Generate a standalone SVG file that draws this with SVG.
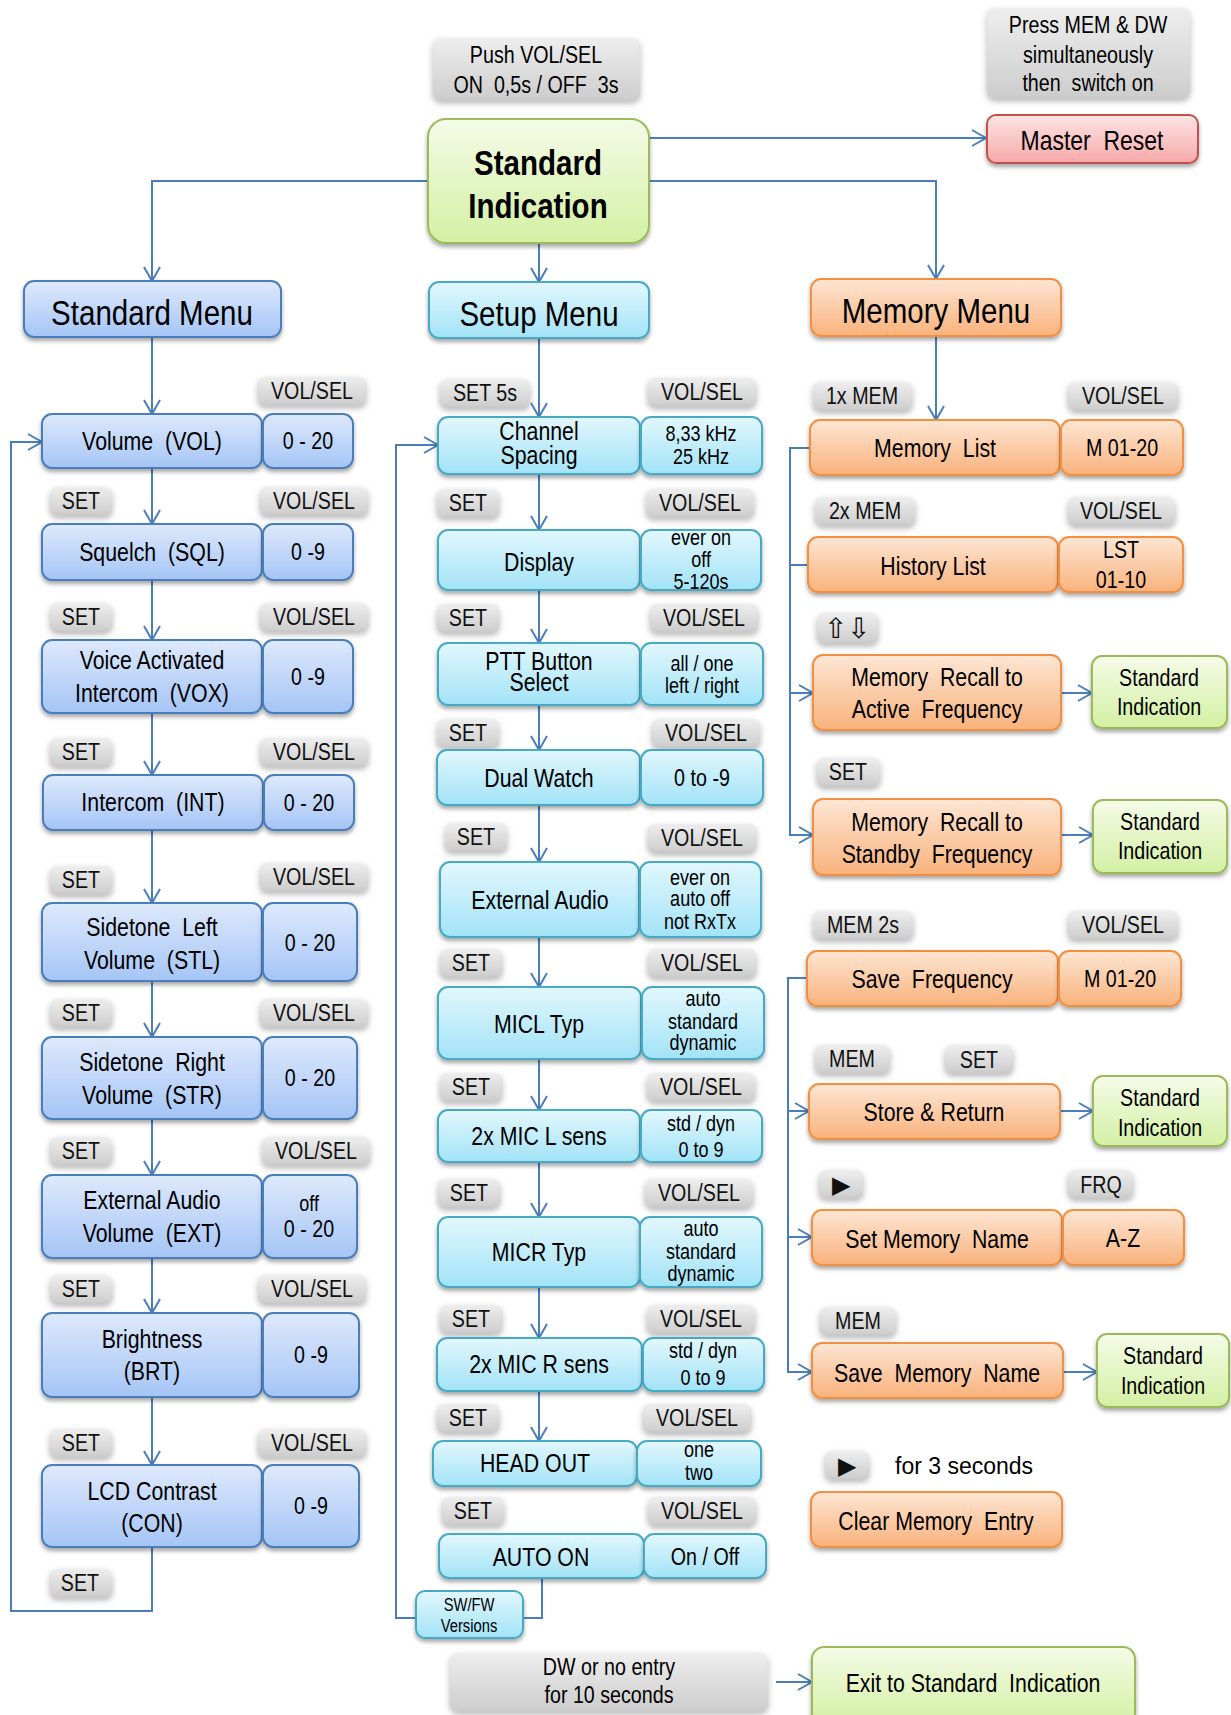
<svg xmlns="http://www.w3.org/2000/svg" width="1231" height="1715" viewBox="0 0 1231 1715">
<defs>
<style>
text{font-family:"Liberation Sans",Arial,sans-serif;text-anchor:middle;fill:#000;transform-box:fill-box;transform-origin:center;transform:scaleX(0.82)}
text.ns{transform:none}
.f36{font-size:36px}
.f36b{font-size:36px;font-weight:bold}
.f28{font-size:28px}
.f26{font-size:26px}
.f24{font-size:24px}
.f22{font-size:22px}
.f18{font-size:18px}
.lab{font-size:24px;fill:#111}
.blue{fill:url(#gBlue);stroke:#4a7ebb;stroke-width:2;filter:url(#sh)}
.cyan{fill:url(#gCyan);stroke:#46aac5;stroke-width:2;filter:url(#sh)}
.orange{fill:url(#gOrange);stroke:#f38f3f;stroke-width:2;filter:url(#sh)}
.green{fill:url(#gGreen);stroke:#9bbb59;stroke-width:2;filter:url(#sh)}
.red{fill:url(#gRed);stroke:#c0504d;stroke-width:2;filter:url(#sh)}
.gray{fill:url(#gGray);filter:url(#gl)}
.c{fill:none;stroke:#4a7ebb;stroke-width:2}
.ca{fill:none;stroke:#4a7ebb;stroke-width:2;marker-end:url(#arr)}
</style>
<linearGradient id="gBlue" x1="0" y1="0" x2="0" y2="1"><stop offset="0" stop-color="#dee9fc"/><stop offset="1" stop-color="#a5c5f6"/></linearGradient>
<linearGradient id="gCyan" x1="0" y1="0" x2="0" y2="1"><stop offset="0" stop-color="#e2f7fd"/><stop offset="1" stop-color="#a2e3f7"/></linearGradient>
<linearGradient id="gOrange" x1="0" y1="0" x2="0" y2="1"><stop offset="0" stop-color="#fde6d4"/><stop offset="1" stop-color="#f9b27c"/></linearGradient>
<linearGradient id="gGreen" x1="0" y1="0" x2="0" y2="1"><stop offset="0" stop-color="#f5fbe8"/><stop offset="1" stop-color="#d3f0a3"/></linearGradient>
<linearGradient id="gRed" x1="0" y1="0" x2="0" y2="1"><stop offset="0" stop-color="#fde4e4"/><stop offset="1" stop-color="#f7a9a9"/></linearGradient>
<linearGradient id="gGray" x1="0" y1="0" x2="0" y2="1"><stop offset="0" stop-color="#eeeeee"/><stop offset="1" stop-color="#cdcdcd"/></linearGradient>
<filter id="sh" x="-10%" y="-20%" width="120%" height="150%"><feDropShadow dx="0" dy="3" stdDeviation="2" flood-color="#000" flood-opacity="0.35"/></filter>
<filter id="gl" x="-20%" y="-30%" width="140%" height="180%">
<feGaussianBlur in="SourceAlpha" stdDeviation="3" result="b"/>
<feOffset in="b" dy="3" result="o"/>
<feFlood flood-color="#7a7a7a" flood-opacity="0.6"/>
<feComposite in2="o" operator="in" result="s"/>
<feGaussianBlur in="SourceGraphic" stdDeviation="1" result="g"/>
<feMerge><feMergeNode in="s"/><feMergeNode in="g"/></feMerge>
</filter>
<marker id="arr" markerUnits="userSpaceOnUse" markerWidth="18" markerHeight="20" refX="15" refY="9" orient="auto"><path d="M1,1 L15,9 L1,17" fill="none" stroke="#4a7ebb" stroke-width="2"/></marker>
</defs>
<rect width="1231" height="1715" fill="#fff"/>

<g id="connectors">
<path class="ca" d="M649,138 H986"/>
<path class="ca" d="M428,181 H152 V281"/>
<path class="ca" d="M649,181 H936 V279"/>
<path class="ca" d="M539,243 V282"/>
<path class="ca" d="M152,337 V414"/>
<path class="ca" d="M539,338 V417"/>
<path class="ca" d="M936,336 V420"/>
<path class="ca" d="M152,468 V524"/>
<path class="ca" d="M152,580 V640"/>
<path class="ca" d="M152,713 V775"/>
<path class="ca" d="M152,830 V903"/>
<path class="ca" d="M152,981 V1037"/>
<path class="ca" d="M152,1119 V1175"/>
<path class="ca" d="M152,1258 V1313"/>
<path class="ca" d="M152,1397 V1465"/>
<path class="ca" d="M152,1547 V1611 H11 V442 H42"/>
<path class="ca" d="M539,474 V530"/>
<path class="ca" d="M539,590 V643"/>
<path class="ca" d="M539,705 V750"/>
<path class="ca" d="M539,805 V862"/>
<path class="ca" d="M539,937 V987"/>
<path class="ca" d="M539,1059 V1110"/>
<path class="ca" d="M539,1162 V1217"/>
<path class="ca" d="M539,1287 V1338"/>
<path class="ca" d="M539,1391 V1441"/>
<path class="c" d="M542,1578 V1618 H523"/>
<path class="ca" d="M416,1618 H396 V445 H438"/>
<path class="ca" d="M810,448 H790 V835 H813"/>
<path class="c" d="M790,565 H808"/>
<path class="ca" d="M790,693 H813"/>
<path class="ca" d="M1061,693 H1092"/>
<path class="ca" d="M1061,835 H1093"/>
<path class="ca" d="M807,978 H788 V1372 H812"/>
<path class="ca" d="M788,1111 H809"/>
<path class="ca" d="M788,1237 H812"/>
<path class="ca" d="M1060,1111 H1093"/>
<path class="ca" d="M1063,1372 H1097"/>
<path class="ca" d="M776,1682 H812"/>
</g>

<g id="push-label"><rect class="gray" x="433" y="38" width="207" height="62" rx="8"/><text class="f24" x="536" y="63">Push VOL/SEL</text><text class="f24" x="536" y="93" xml:space="preserve">ON  0,5s / OFF  3s</text></g>
<g id="standard-indication"><rect class="green" x="428" y="119" width="221" height="124" rx="18"/><text class="f36b" x="538" y="175">Standard</text><text class="f36b" x="538" y="218">Indication</text></g>
<g id="press-label"><rect class="gray" x="987" y="8" width="203" height="90" rx="8"/><text class="f24" x="1088" y="33">Press MEM &amp; DW</text><text class="f24" x="1088" y="63">simultaneously</text><text class="f24" x="1088" y="91" xml:space="preserve">then  switch on</text></g>
<g id="master-reset"><rect class="red" x="987" y="115" width="211" height="48" rx="9"/><text class="f28" x="1092" y="150" xml:space="preserve">Master  Reset</text></g>

<g id="standard-menu"><rect class="blue" x="24" y="281" width="257" height="56" rx="10"/><text class="f36" x="152" y="325">Standard Menu</text></g>
<g id="setup-menu"><rect class="cyan" x="429" y="282" width="220" height="56" rx="10"/><text class="f36" x="539" y="326">Setup Menu</text></g>
<g id="memory-menu"><rect class="orange" x="811" y="279" width="250" height="57" rx="10"/><text class="f36" x="936" y="323">Memory Menu</text></g>

<g id="std-labels">
<rect class="gray" x="258" y="377" width="108" height="28" rx="7"/><text class="lab" x="312" y="399">VOL/SEL</text>
<rect class="gray" x="50" y="487" width="62" height="28" rx="7"/><text class="lab" x="81" y="509">SET</text>
<rect class="gray" x="260" y="487" width="108" height="28" rx="7"/><text class="lab" x="314" y="509">VOL/SEL</text>
<rect class="gray" x="50" y="603" width="62" height="28" rx="7"/><text class="lab" x="81" y="625">SET</text>
<rect class="gray" x="260" y="603" width="108" height="28" rx="7"/><text class="lab" x="314" y="625">VOL/SEL</text>
<rect class="gray" x="50" y="738" width="62" height="28" rx="7"/><text class="lab" x="81" y="760">SET</text>
<rect class="gray" x="260" y="738" width="108" height="28" rx="7"/><text class="lab" x="314" y="760">VOL/SEL</text>
<rect class="gray" x="50" y="866" width="62" height="28" rx="7"/><text class="lab" x="81" y="888">SET</text>
<rect class="gray" x="260" y="863" width="108" height="28" rx="7"/><text class="lab" x="314" y="885">VOL/SEL</text>
<rect class="gray" x="50" y="999" width="62" height="28" rx="7"/><text class="lab" x="81" y="1021">SET</text>
<rect class="gray" x="260" y="999" width="108" height="28" rx="7"/><text class="lab" x="314" y="1021">VOL/SEL</text>
<rect class="gray" x="50" y="1137" width="62" height="28" rx="7"/><text class="lab" x="81" y="1159">SET</text>
<rect class="gray" x="262" y="1137" width="108" height="28" rx="7"/><text class="lab" x="316" y="1159">VOL/SEL</text>
<rect class="gray" x="50" y="1275" width="62" height="28" rx="7"/><text class="lab" x="81" y="1297">SET</text>
<rect class="gray" x="258" y="1275" width="108" height="28" rx="7"/><text class="lab" x="312" y="1297">VOL/SEL</text>
<rect class="gray" x="50" y="1429" width="62" height="28" rx="7"/><text class="lab" x="81" y="1451">SET</text>
<rect class="gray" x="258" y="1429" width="108" height="28" rx="7"/><text class="lab" x="312" y="1451">VOL/SEL</text>
<rect class="gray" x="50" y="1569" width="62" height="28" rx="7"/><text class="lab" x="80" y="1591">SET</text>
</g>

<g id="vol"><rect class="blue" x="42" y="414" width="220" height="54" rx="10"/><text class="f26" x="152" y="450" xml:space="preserve">Volume  (VOL)</text><rect class="blue" x="263" y="414" width="90" height="54" rx="10"/><text class="f24" x="308" y="449">0 - 20</text></g>
<g id="sql"><rect class="blue" x="42" y="524" width="220" height="56" rx="10"/><text class="f26" x="152" y="561" xml:space="preserve">Squelch  (SQL)</text><rect class="blue" x="263" y="524" width="90" height="56" rx="10"/><text class="f24" x="308" y="560">0 -9</text></g>
<g id="vox"><rect class="blue" x="42" y="640" width="220" height="73" rx="10"/><text class="f26" x="152" y="669">Voice Activated</text><text class="f26" x="152" y="702" xml:space="preserve">Intercom  (VOX)</text><rect class="blue" x="263" y="640" width="90" height="73" rx="10"/><text class="f24" x="308" y="685">0 -9</text></g>
<g id="int"><rect class="blue" x="43" y="775" width="220" height="55" rx="10"/><text class="f26" x="153" y="811" xml:space="preserve">Intercom  (INT)</text><rect class="blue" x="264" y="775" width="90" height="55" rx="10"/><text class="f24" x="309" y="811">0 - 20</text></g>
<g id="stl"><rect class="blue" x="42" y="903" width="220" height="78" rx="10"/><text class="f26" x="152" y="936" xml:space="preserve">Sidetone  Left</text><text class="f26" x="152" y="969" xml:space="preserve">Volume  (STL)</text><rect class="blue" x="263" y="903" width="94" height="78" rx="10"/><text class="f24" x="310" y="951">0 - 20</text></g>
<g id="str"><rect class="blue" x="42" y="1037" width="220" height="82" rx="10"/><text class="f26" x="152" y="1071" xml:space="preserve">Sidetone  Right</text><text class="f26" x="152" y="1104" xml:space="preserve">Volume  (STR)</text><rect class="blue" x="263" y="1037" width="94" height="82" rx="10"/><text class="f24" x="310" y="1086">0 - 20</text></g>
<g id="ext"><rect class="blue" x="42" y="1175" width="220" height="83" rx="10"/><text class="f26" x="152" y="1209">External Audio</text><text class="f26" x="152" y="1242" xml:space="preserve">Volume  (EXT)</text><rect class="blue" x="263" y="1175" width="94" height="83" rx="10"/><text class="f22" x="309" y="1211">off</text><text class="f24" x="309" y="1237">0 - 20</text></g>
<g id="brt"><rect class="blue" x="42" y="1313" width="220" height="84" rx="10"/><text class="f26" x="152" y="1348">Brightness</text><text class="f26" x="152" y="1380">(BRT)</text><rect class="blue" x="263" y="1313" width="96" height="84" rx="10"/><text class="f24" x="311" y="1363">0 -9</text></g>
<g id="con"><rect class="blue" x="42" y="1465" width="220" height="82" rx="10"/><text class="f26" x="152" y="1500">LCD Contrast</text><text class="f26" x="152" y="1532">(CON)</text><rect class="blue" x="263" y="1465" width="96" height="82" rx="10"/><text class="f24" x="311" y="1514">0 -9</text></g>

<g id="setup-labels">
<rect class="gray" x="440" y="379" width="90" height="28" rx="7"/><text class="lab" x="485" y="401">SET 5s</text>
<rect class="gray" x="648" y="378" width="108" height="28" rx="7"/><text class="lab" x="702" y="400">VOL/SEL</text>
<rect class="gray" x="437" y="489" width="62" height="28" rx="7"/><text class="lab" x="468" y="511">SET</text>
<rect class="gray" x="646" y="489" width="108" height="28" rx="7"/><text class="lab" x="700" y="511">VOL/SEL</text>
<rect class="gray" x="437" y="604" width="62" height="28" rx="7"/><text class="lab" x="468" y="626">SET</text>
<rect class="gray" x="650" y="604" width="108" height="28" rx="7"/><text class="lab" x="704" y="626">VOL/SEL</text>
<rect class="gray" x="437" y="719" width="62" height="28" rx="7"/><text class="lab" x="468" y="741">SET</text>
<rect class="gray" x="652" y="719" width="108" height="28" rx="7"/><text class="lab" x="706" y="741">VOL/SEL</text>
<rect class="gray" x="445" y="823" width="62" height="28" rx="7"/><text class="lab" x="476" y="845">SET</text>
<rect class="gray" x="648" y="824" width="108" height="28" rx="7"/><text class="lab" x="702" y="846">VOL/SEL</text>
<rect class="gray" x="440" y="949" width="62" height="28" rx="7"/><text class="lab" x="471" y="971">SET</text>
<rect class="gray" x="648" y="949" width="108" height="28" rx="7"/><text class="lab" x="702" y="971">VOL/SEL</text>
<rect class="gray" x="440" y="1073" width="62" height="28" rx="7"/><text class="lab" x="471" y="1095">SET</text>
<rect class="gray" x="647" y="1073" width="108" height="28" rx="7"/><text class="lab" x="701" y="1095">VOL/SEL</text>
<rect class="gray" x="438" y="1179" width="62" height="28" rx="7"/><text class="lab" x="469" y="1201">SET</text>
<rect class="gray" x="645" y="1179" width="108" height="28" rx="7"/><text class="lab" x="699" y="1201">VOL/SEL</text>
<rect class="gray" x="440" y="1305" width="62" height="28" rx="7"/><text class="lab" x="471" y="1327">SET</text>
<rect class="gray" x="647" y="1305" width="108" height="28" rx="7"/><text class="lab" x="701" y="1327">VOL/SEL</text>
<rect class="gray" x="437" y="1404" width="62" height="28" rx="7"/><text class="lab" x="468" y="1426">SET</text>
<rect class="gray" x="643" y="1404" width="108" height="28" rx="7"/><text class="lab" x="697" y="1426">VOL/SEL</text>
<rect class="gray" x="442" y="1497" width="62" height="28" rx="7"/><text class="lab" x="473" y="1519">SET</text>
<rect class="gray" x="648" y="1497" width="108" height="28" rx="7"/><text class="lab" x="702" y="1519">VOL/SEL</text>
</g>

<g id="channel"><rect class="cyan" x="438" y="417" width="202" height="57" rx="10"/><text class="f26" x="539" y="440">Channel</text><text class="f26" x="539" y="464">Spacing</text><rect class="cyan" x="641" y="417" width="121" height="57" rx="10"/><text class="f22" x="701" y="441">8,33 kHz</text><text class="f22" x="701" y="464">25 kHz</text></g>
<g id="display"><rect class="cyan" x="438" y="530" width="202" height="60" rx="10"/><text class="f26" x="539" y="571">Display</text><rect class="cyan" x="641" y="530" width="120" height="60" rx="10"/><text class="f22" x="701" y="545">ever on</text><text class="f22" x="701" y="567">off</text><text class="f22" x="701" y="589">5-120s</text></g>
<g id="ptt"><rect class="cyan" x="438" y="643" width="202" height="62" rx="10"/><text class="f26" x="539" y="670">PTT Button</text><text class="f26" x="539" y="691">Select</text><rect class="cyan" x="641" y="643" width="122" height="62" rx="10"/><text class="f22" x="702" y="671">all / one</text><text class="f22" x="702" y="693">left / right</text></g>
<g id="dual-watch"><rect class="cyan" x="437" y="750" width="203" height="55" rx="10"/><text class="f26" x="539" y="787">Dual Watch</text><rect class="cyan" x="641" y="750" width="122" height="55" rx="10"/><text class="f24" x="702" y="786">0 to -9</text></g>
<g id="external-audio"><rect class="cyan" x="440" y="862" width="199" height="75" rx="10"/><text class="f26" x="540" y="909">External Audio</text><rect class="cyan" x="640" y="862" width="121" height="75" rx="10"/><text class="f22" x="700" y="885">ever on</text><text class="f22" x="700" y="906">auto off</text><text class="f22" x="700" y="929">not RxTx</text></g>
<g id="micl"><rect class="cyan" x="438" y="987" width="203" height="72" rx="10"/><text class="f26" x="539" y="1033">MICL Typ</text><rect class="cyan" x="642" y="987" width="122" height="72" rx="10"/><text class="f22" x="703" y="1006">auto</text><text class="f22" x="703" y="1029">standard</text><text class="f22" x="703" y="1050">dynamic</text></g>
<g id="micl-sens"><rect class="cyan" x="438" y="1110" width="202" height="52" rx="10"/><text class="f26" x="539" y="1145">2x MIC L sens</text><rect class="cyan" x="641" y="1110" width="121" height="52" rx="10"/><text class="f22" x="701" y="1131">std / dyn</text><text class="f22" x="701" y="1157">0 to 9</text></g>
<g id="micr"><rect class="cyan" x="438" y="1217" width="202" height="70" rx="10"/><text class="f26" x="539" y="1261">MICR Typ</text><rect class="cyan" x="640" y="1217" width="122" height="70" rx="10"/><text class="f22" x="701" y="1236">auto</text><text class="f22" x="701" y="1259">standard</text><text class="f22" x="701" y="1281">dynamic</text></g>
<g id="micr-sens"><rect class="cyan" x="437" y="1338" width="205" height="53" rx="10"/><text class="f26" x="539" y="1373">2x MIC R sens</text><rect class="cyan" x="643" y="1338" width="121" height="53" rx="10"/><text class="f22" x="703" y="1358">std / dyn</text><text class="f22" x="703" y="1385">0 to 9</text></g>
<g id="head-out"><rect class="cyan" x="433" y="1441" width="204" height="45" rx="10"/><text class="f26" x="535" y="1472">HEAD OUT</text><rect class="cyan" x="637" y="1441" width="124" height="45" rx="10"/><text class="f22" x="699" y="1457">one</text><text class="f22" x="699" y="1480">two</text></g>
<g id="auto-on"><rect class="cyan" x="439" y="1534" width="205" height="44" rx="10"/><text class="f26" x="541" y="1566">AUTO ON</text><rect class="cyan" x="644" y="1534" width="122" height="44" rx="10"/><text class="f24" x="705" y="1565">On / Off</text></g>
<g id="swfw"><rect class="cyan" x="416" y="1591" width="107" height="47" rx="9"/><text class="f18" x="469" y="1611">SW/FW</text><text class="f18" x="469" y="1632">Versions</text></g>

<g id="mem-labels">
<rect class="gray" x="813" y="382" width="99" height="28" rx="7"/><text class="lab" x="862" y="404">1x MEM</text>
<rect class="gray" x="1068" y="382" width="110" height="28" rx="7"/><text class="lab" x="1123" y="404">VOL/SEL</text>
<rect class="gray" x="815" y="497" width="100" height="28" rx="7"/><text class="lab" x="865" y="519">2x MEM</text>
<rect class="gray" x="1068" y="497" width="107" height="28" rx="7"/><text class="lab" x="1121" y="519">VOL/SEL</text>
<rect class="gray" x="817" y="613" width="61" height="30" rx="7"/><text class="lab ns" style="font-size:28px" x="847" y="638">⇧⇩</text>
<rect class="gray" x="817" y="758" width="63" height="28" rx="7"/><text class="lab" x="848" y="780">SET</text>
<rect class="gray" x="813" y="911" width="100" height="28" rx="7"/><text class="lab" x="863" y="933">MEM 2s</text>
<rect class="gray" x="1068" y="911" width="110" height="28" rx="7"/><text class="lab" x="1123" y="933">VOL/SEL</text>
<rect class="gray" x="815" y="1045" width="75" height="28" rx="7"/><text class="lab" x="852" y="1067">MEM</text>
<rect class="gray" x="945" y="1045" width="68" height="28" rx="7"/><text class="lab" x="979" y="1068">SET</text>
<rect class="gray" x="819" y="1170" width="44" height="28" rx="7"/><text class="lab ns" x="841" y="1193">▶</text>
<rect class="gray" x="1068" y="1170" width="65" height="28" rx="7"/><text class="lab" x="1101" y="1193">FRQ</text>
<rect class="gray" x="820" y="1307" width="76" height="28" rx="7"/><text class="lab" x="858" y="1329">MEM</text>
<rect class="gray" x="825" y="1451" width="44" height="28" rx="7"/><text class="lab ns" x="847" y="1474">▶</text>
<text class="ns" style="font-size:23px;text-anchor:start" x="895" y="1474">for 3 seconds</text>
</g>

<g id="memory-list"><rect class="orange" x="810" y="420" width="250" height="55" rx="10"/><text class="f26" x="935" y="457" xml:space="preserve">Memory  List</text><rect class="orange" x="1061" y="420" width="122" height="55" rx="10"/><text class="f24" x="1122" y="456">M 01-20</text></g>
<g id="history-list"><rect class="orange" x="808" y="537" width="250" height="55" rx="10"/><text class="f26" x="933" y="575">History List</text><rect class="orange" x="1059" y="537" width="124" height="55" rx="10"/><text class="f24" x="1121" y="558">LST</text><text class="f24" x="1121" y="588">01-10</text></g>
<g id="recall-active"><rect class="orange" x="813" y="655" width="248" height="75" rx="10"/><text class="f26" x="937" y="686" xml:space="preserve">Memory  Recall to</text><text class="f26" x="937" y="718" xml:space="preserve">Active  Frequency</text></g>
<g id="si-1"><rect class="green" x="1092" y="656" width="135" height="72" rx="10"/><text class="f24" x="1159" y="686">Standard</text><text class="f24" x="1159" y="715">Indication</text></g>
<g id="recall-standby"><rect class="orange" x="813" y="799" width="248" height="76" rx="10"/><text class="f26" x="937" y="831" xml:space="preserve">Memory  Recall to</text><text class="f26" x="937" y="863" xml:space="preserve">Standby  Frequency</text></g>
<g id="si-2"><rect class="green" x="1093" y="800" width="134" height="73" rx="10"/><text class="f24" x="1160" y="830">Standard</text><text class="f24" x="1160" y="859">Indication</text></g>
<g id="save-frequency"><rect class="orange" x="807" y="951" width="251" height="55" rx="10"/><text class="f26" x="932" y="988" xml:space="preserve">Save  Frequency</text><rect class="orange" x="1059" y="951" width="122" height="55" rx="10"/><text class="f24" x="1120" y="987">M 01-20</text></g>
<g id="store-return"><rect class="orange" x="809" y="1084" width="251" height="55" rx="10"/><text class="f26" x="934" y="1121">Store &amp; Return</text></g>
<g id="si-3"><rect class="green" x="1093" y="1076" width="134" height="70" rx="10"/><text class="f24" x="1160" y="1106">Standard</text><text class="f24" x="1160" y="1136">Indication</text></g>
<g id="set-memory-name"><rect class="orange" x="812" y="1210" width="250" height="55" rx="10"/><text class="f26" x="937" y="1248" xml:space="preserve">Set Memory  Name</text><rect class="orange" x="1063" y="1210" width="121" height="55" rx="10"/><text class="f26" x="1123" y="1247">A-Z</text></g>
<g id="save-memory-name"><rect class="orange" x="812" y="1343" width="251" height="55" rx="10"/><text class="f26" x="937" y="1382" xml:space="preserve">Save  Memory  Name</text></g>
<g id="si-4"><rect class="green" x="1097" y="1334" width="132" height="73" rx="10"/><text class="f24" x="1163" y="1364">Standard</text><text class="f24" x="1163" y="1394">Indication</text></g>
<g id="clear-memory"><rect class="orange" x="811" y="1492" width="251" height="55" rx="10"/><text class="f26" x="936" y="1530" xml:space="preserve">Clear Memory  Entry</text></g>

<g id="dw-label"><rect class="gray" x="450" y="1653" width="318" height="58" rx="8"/><text class="f24" x="609" y="1675">DW or no entry</text><text class="f24" x="609" y="1703">for 10 seconds</text></g>
<g id="exit"><rect class="green" x="812" y="1647" width="323" height="78" rx="12"/><text class="f26" x="973" y="1692" xml:space="preserve">Exit to Standard  Indication</text></g>
</svg>
